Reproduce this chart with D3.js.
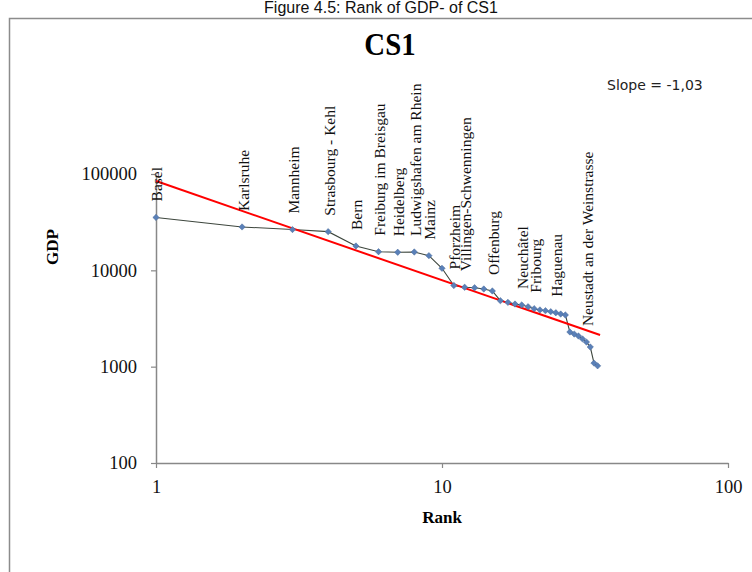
<!DOCTYPE html>
<html>
<head>
<meta charset="utf-8">
<script src="https://cdn.jsdelivr.net/npm/d3@7"></script>
<style>
  body { margin: 0; background: #fff; }
  svg { display: block; }
</style>
</head>
<body>
<svg width="752" height="572"></svg>
<script>
// GDP by rank (log-log)
var ranks = [1, 2, 3, 4, 5, 6, 7, 8, 9, 10, 11, 12, 13, 14, 15, 16, 17, 18,
    19, 20, 21, 22, 23, 24, 25, 26, 27, 28, 29, 30, 31, 32, 33, 34, 35];
var gdp = [35400, 28200, 26500, 25200, 17900, 15600, 15400, 15500, 14200, 10500,
    6960, 6670, 6600, 6400, 6100, 4840, 4650, 4470, 4370, 4190, 4000, 3880,
    3810, 3720, 3630, 3520, 3440, 2290, 2180, 2080, 1940, 1800, 1600, 1090, 1020];

// city labels and the rank they sit on
var labelRanks = [1, 2, 3, 4, 5, 6, 7, 8, 9, 11, 12, 15, 19, 21, 25, 32];
var labelNames = ["Basel", "Karlsruhe", "Mannheim", "Strasbourg - Kehl", "Bern",
    "Freiburg im Breisgau", "Heidelberg", "Ludwigshafen am Rhein", "Mainz",
    "Pforzheim", "Villingen-Schwenningen", "Offenburg", "Neuchâtel", "Fribourg",
    "Haguenau", "Neustadt an der Weinstrasse"];

// power-law fit shown in red
var fitIntercept = 84600,
    fitSlope = -1.03,
    fitRange = [1, 35.7];

var xTicks = [1, 10, 100];
var yTicks = [100, 1000, 10000, 100000];

var svg = d3.select("svg");
var serif = "'Liberation Serif', 'Times New Roman', serif";

var x = d3.scaleLog().domain([1, 100]).range([156, 728]);
var y = d3.scaleLog().domain([100, 100000]).range([463, 174]);

// page caption and chart frame
svg.append("text")
    .attr("x", 381)
    .attr("y", 13)
    .attr("text-anchor", "middle")
    .attr("font-family", "'Liberation Sans', Arial, sans-serif")
    .attr("font-size", "16px")
    .attr("fill", "#111")
    .text("Figure 4.5: Rank of GDP- of CS1");

svg.append("rect")
    .attr("x", 9.5)
    .attr("y", 18.5)
    .attr("width", 800)
    .attr("height", 600)
    .attr("fill", "none")
    .attr("stroke", "#8c8c8c")
    .attr("stroke-width", 1.5);

svg.append("text")
    .attr("x", 390)
    .attr("y", 55)
    .attr("text-anchor", "middle")
    .attr("font-family", serif)
    .attr("font-weight", "bold")
    .attr("font-size", "31px")
    .attr("transform", "translate(390,0) scale(0.93,1) translate(-390,0)")
    .text("CS1");

svg.append("text")
    .attr("x", 607)
    .attr("y", 90)
    .attr("font-family", "'DejaVu Sans', Verdana, sans-serif")
    .attr("font-size", "14px")
    .attr("fill", "#222")
    .text("Slope = -1,03");

// axes
var xAxis = d3.axisBottom(x)
    .tickValues(xTicks)
    .tickFormat(d3.format("d"))
    .tickSizeInner(5)
    .tickSizeOuter(0)
    .tickPadding(12);

var yAxis = d3.axisLeft(y)
    .tickValues(yTicks)
    .tickFormat(d3.format("d"))
    .tickSizeInner(5)
    .tickSizeOuter(0)
    .tickPadding(14);

var gx = svg.append("g")
    .attr("transform", "translate(0," + y(100) + ")")
    .call(xAxis);

var gy = svg.append("g")
    .attr("transform", "translate(" + x(1) + ",0)")
    .call(yAxis);

[gx, gy].forEach(function (g) {
    g.select(".domain").attr("stroke", "#888").attr("stroke-width", 1.5);
    g.selectAll(".tick line").attr("stroke", "#888").attr("stroke-width", 1.2);
    g.selectAll(".tick text")
        .attr("font-family", serif)
        .attr("font-size", "18.5px")
        .attr("fill", "#111");
});

svg.append("text")
    .attr("transform", "translate(58,247) rotate(-90)")
    .attr("text-anchor", "middle")
    .attr("font-family", serif)
    .attr("font-weight", "bold")
    .attr("font-size", "17px")
    .text("GDP");

svg.append("text")
    .attr("x", 442)
    .attr("y", 523)
    .attr("text-anchor", "middle")
    .attr("font-family", serif)
    .attr("font-weight", "bold")
    .attr("font-size", "17px")
    .text("Rank");

// data line and markers
var points = ranks.map(function (r, i) { return { rank: r, gdp: gdp[i] }; });

var line = d3.line()
    .x(function (d) { return x(d.rank); })
    .y(function (d) { return y(d.gdp); });

svg.append("path")
    .datum(points)
    .attr("fill", "none")
    .attr("stroke", "#3d463d")
    .attr("stroke-width", 1.1)
    .attr("d", line);

// regression line
var fitPoints = fitRange.map(function (r) {
    return { rank: r, gdp: fitIntercept * Math.pow(r, fitSlope) };
});

svg.append("path")
    .datum(fitPoints)
    .attr("fill", "none")
    .attr("stroke", "#ff0000")
    .attr("stroke-width", 2)
    .attr("d", line);

svg.append("g")
    .selectAll("path")
    .data(points)
    .enter().append("path")
    .attr("d", d3.symbol().type(d3.symbolSquare).size(20))
    .attr("transform", function (d) {
        return "translate(" + x(d.rank) + "," + y(d.gdp) + ") rotate(45)";
    })
    .attr("fill", "#5a80b8")
    .attr("stroke", "#4a6a9a")
    .attr("stroke-width", 0.5);

// rotated city labels above their points
svg.append("g")
    .selectAll("text")
    .data(labelRanks)
    .enter().append("text")
    .attr("transform", function (r) {
        var d = points[ranks.indexOf(r)];
        return "translate(" + (x(d.rank) + 1) + "," + (y(d.gdp) - 16) + ") rotate(-90)";
    })
    .attr("dy", "0.35em")
    .attr("font-family", serif)
    .attr("font-size", "15.5px")
    .attr("fill", "#111")
    .text(function (r, i) { return labelNames[i]; });
</script>
</body>
</html>
